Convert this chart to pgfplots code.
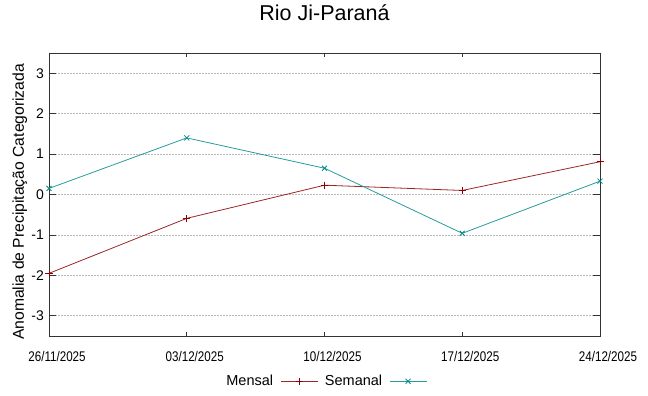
\documentclass[border=0pt]{standalone}
\usepackage{pgfplots}
\pgfplotsset{compat=1.18}
\usepackage{fontspec}
\setmainfont{Liberation Sans}
\usepackage{graphicx}
\definecolor{mensal}{HTML}{8B0000}
\definecolor{semanal}{HTML}{008B8B}
\newcommand{\xl}[1]{\scalebox{0.83}[1]{#1}}
\begin{document}
\begin{tikzpicture}
\path[use as bounding box] (-49pt,-60pt) rectangle (599pt,336pt);
\begin{axis}[
  at={(0pt,0pt)}, anchor=south west,
  scale only axis, width=551pt, height=283pt,
  xmin=0, xmax=4, ymin=-3.5, ymax=3.5,
  xtick={0,1,2,3,4},
  xticklabels={\xl{26/11/2025},\xl{03/12/2025},\xl{10/12/2025},\xl{17/12/2025},\xl{24/12/2025}},
  ytick={-3,-2,-1,0,1,2,3},
  yticklabels={-3,-2,-1,0,1,2,3},
  minor tick num=0,
  tick align=inside,
  xtick pos=both, ytick pos=both,
  xtick style={/pgfplots/major tick length=4pt},
  ytick style={/pgfplots/major tick length=7pt},
  tick style={black!80, line width=0.6pt},
  axis line style={black!80, line width=0.8pt},
  ymajorgrids,
  major grid style={gray!55, dash pattern=on 1.5pt off 1.5pt, line width=0.6pt},
  xticklabel style={font=\fontsize{14}{16}\selectfont, yshift=-12pt, xshift=8pt},
  yticklabel style={font=\fontsize{14}{16}\selectfont, xshift=-1.6pt},
  title={Rio Ji-Paraná},
  title style={font=\fontsize{21.5}{24}\selectfont, at={(axis description cs:0.5,1)}, anchor=base, yshift=26.3pt},
  ylabel={Anomalia de Precipitação Categorizada},
  ylabel style={font=\fontsize{15.7}{18}\selectfont, at={(axis description cs:-0.0527,0.474)}, anchor=center},
  clip=false,
  legend style={at={(axis description cs:0.504,-0.160)}, anchor=center, draw=none, fill=none,
    font=\fontsize{14.5}{17}\selectfont, column sep=7pt, nodes={inner sep=0pt}},
  legend columns=2,
  legend plot pos=right,
  legend image code/.code={\draw[mark repeat=2, mark phase=2, #1] plot coordinates {(0pt,0pt) (18.5pt,0pt) (37pt,0pt)};},
]
\addplot[color=mensal!85, line width=0.8pt, mark=+, mark size=3.5pt, mark options={solid, line width=0.8pt, color=mensal}]
  coordinates {(0,-1.95) (1,-0.59) (2,0.23) (3,0.10) (4,0.81)};
\addlegendentry{Mensal}
\addplot[color=semanal!85, line width=0.8pt, mark=x, mark size=3.5pt, mark options={solid, line width=0.8pt, color=semanal}]
  coordinates {(0,0.15) (1,1.40) (2,0.65) (3,-0.96) (4,0.33)};
\addlegendentry{Semanal}
\end{axis}
\end{tikzpicture}
\end{document}
